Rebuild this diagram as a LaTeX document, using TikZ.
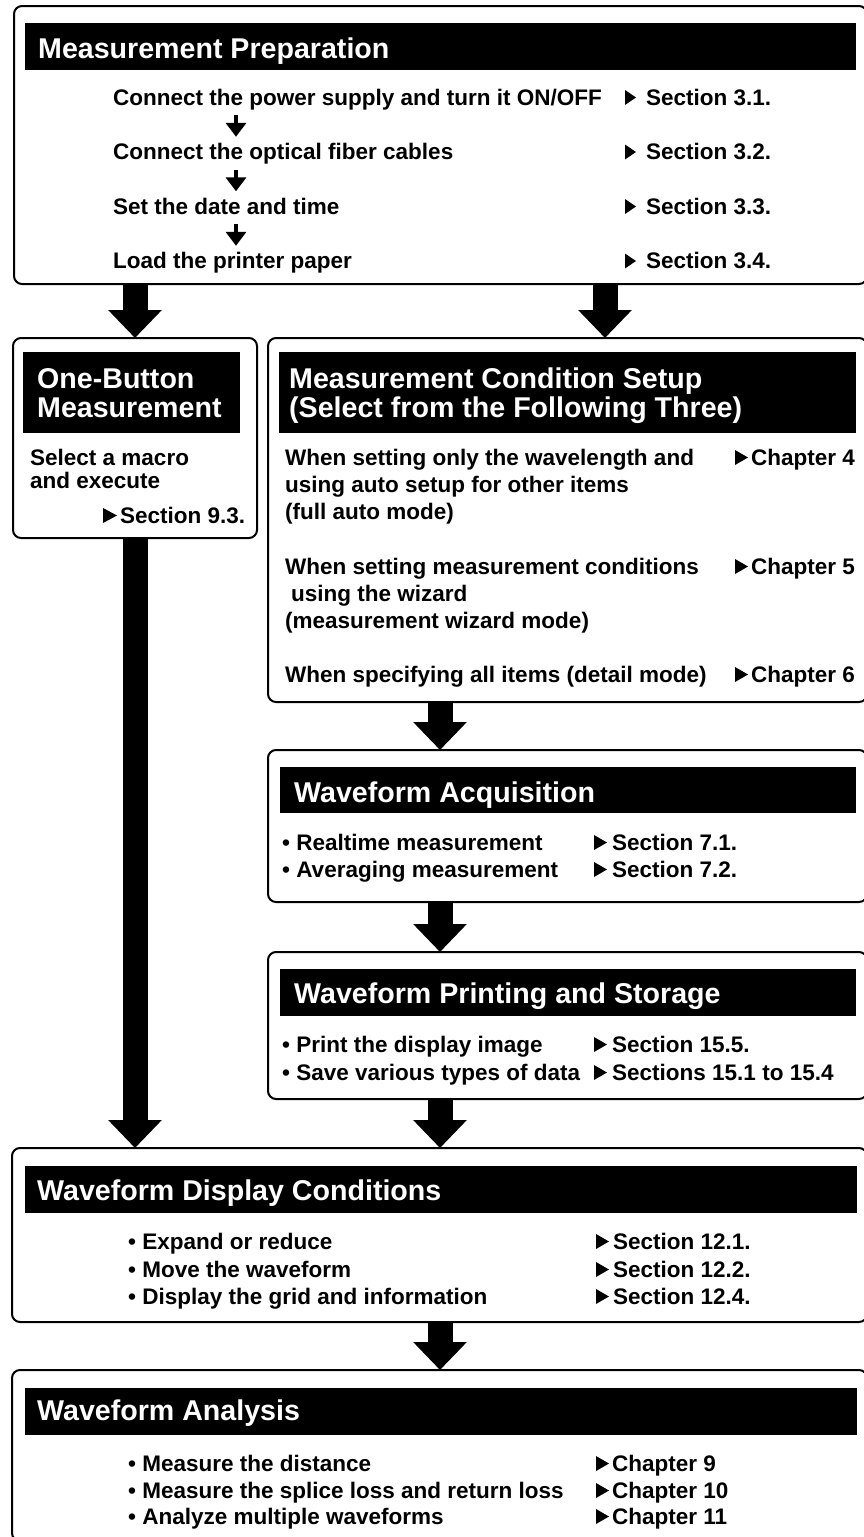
\documentclass[tikz,border=0pt]{standalone}
\usepackage{fontspec}
\setmainfont{Liberation Sans}
\usetikzlibrary{arrows.meta}

% Kaesten: Name/x links/y oben/x rechts/y unten
\def\boxes{prep/14/6/867/284, onebtn/13/338/257/538, cond/268/338/867/702,
           acq/268/750/867/902, print/268/952/867/1099,
           disp/12/1148/867/1322, anal/12/1370/867/1541}
\def\bands{prep/25/23/856/70, onebtn/23/352/240/433, cond/279/352/856/433,
           acq/280/767/856/813, print/280/969/856/1016,
           disp/25/1166/857/1213, anal/25/1388/857/1435}
\def\headers{38/58/{Measurement Preparation},
             37/388/{One-Button}, 37/417/{Measurement},
             289/388/{Measurement Condition Setup}, 289/417/{(Select from the Following Three)},
             294/802/{Waveform Acquisition},
             294/1003/{Waveform Printing and Storage},
             37/1200/{Waveform Display Conditions},
             37/1420/{Waveform Analysis}}
\def\prepsteps{105/{Connect the power supply and turn it ON/OFF},
               159.5/{Connect the optical fiber cables},
               214/{Set the date and time},
               268.5/{Load the printer paper}}
\def\items{30/465/{Select a macro}, 30/488/{and execute},
           285/465/{When setting only the wavelength and},
           285/492/{using auto setup for other items},
           285/519/{(full auto mode)},
           285/574/{When setting measurement conditions},
           291/601/{using the wizard},
           285/628/{(measurement wizard mode)},
           285/682/{When specifying all items (detail mode)},
           282/850/{• Realtime measurement}, 282/877/{• Averaging measurement},
           282/1052/{• Print the display image}, 282/1080/{• Save various types of data},
           128/1249/{• Expand or reduce}, 128/1277/{• Move the waveform},
           128/1304/{• Display the grid and information},
           128/1471/{• Measure the distance},
           128/1498/{• Measure the splice loss and return loss},
           128/1524/{• Analyze multiple waveforms}}
% Verweise: Dreieck x/Grundlinie/Dreieckbreite/Text x/Text
\def\refs{625/105/11/646/{Section 3.1.}, 625/159.5/11/646/{Section 3.2.},
          625/214/11/646/{Section 3.3.}, 625/268.5/11/646/{Section 3.4.},
          103/523/14/120/{Section 9.3.},
          735/465/13/751/{Chapter 4}, 735/574/13/751/{Chapter 5}, 735/682/13/751/{Chapter 6},
          594/850/13/612/{Section 7.1.}, 594/877/13/612/{Section 7.2.},
          594/1052/13/612/{Section 15.5.}, 594/1080/13/612/{Sections 15.1 to 15.4},
          596/1249/13/613/{Section 12.1.}, 596/1277/13/613/{Section 12.2.},
          596/1304/13/613/{Section 12.4.},
          596/1471/13/612/{Chapter 9}, 596/1498/13/612/{Chapter 10},
          596/1524/13/612/{Chapter 11}}

\begin{document}
\begin{tikzpicture}[x=1pt,y=-1pt,
    box/.style={draw,line width=2pt,rounded corners=8pt,anchor=north west,inner sep=0pt,outer sep=0pt},
    band/.style={fill=black,anchor=north west,inner sep=0pt,outer sep=0pt},
    headtxt/.style={text=white,anchor=base west,inner sep=0pt,font=\fontsize{28.6}{30}\selectfont\bfseries},
    txt/.style={anchor=base west,inner sep=0pt,font=\fontsize{22.5}{26}\selectfont\bfseries},
    prepitem/.style={txt,text height=16pt,text depth=5pt},
    bigarrow/.style={line width=25pt,-{Triangle[length=28pt,width=52pt]}},
    smallarrow/.style={line width=4pt,shorten <=5pt,shorten >=6.5pt,-{Triangle[length=14pt,width=20pt]}}]

\useasboundingbox (0,0) rectangle (863,1537);

% Rahmen
\foreach \n/\xa/\ya/\xb/\yb in \boxes {
  \node[box,minimum width=\xb pt-\xa pt,minimum height=\yb pt-\ya pt] (\n) at (\xa,\ya) {};
}

% schwarze Titelbalken
\foreach \n/\xa/\ya/\xb/\yb in \bands {
  \node[band,minimum width=\xb pt-\xa pt,minimum height=\yb pt-\ya pt] (\n-band) at (\xa,\ya) {};
}
\foreach \x/\y/\t [count=\i] in \headers {
  \node[headtxt] (head\i) at (\x,\y) {\t};
}

% Vorbereitung mit kleinen Pfeilen
\coordinate (sacol) at (236,0);
\foreach \y/\t [count=\i] in \prepsteps {
  \node[prepitem] (prepitem\i) at (113,\y) {\t};
}
\foreach \a/\b in {1/2,2/3,3/4} {
  \draw[smallarrow] (prepitem\a.south -| sacol) -- (prepitem\b.north -| sacol);
}

% Texte
\foreach \x/\y/\t [count=\i] in \items {
  \node[txt] (item\i) at (\x,\y) {\t};
}

% Verweise
\foreach \tx/\ty/\tw/\sx/\t [count=\i] in \refs {
  \fill (\tx,\ty) -- (\tx,\ty-15) -- (\tx+\tw,\ty-7.5) -- cycle;
  \node[txt] (ref\i) at (\sx,\ty) {\t};
}

% dicke Pfeile
\coordinate (lcol) at (135,0);
\coordinate (rcol) at (605,0);
\coordinate (mcol) at (440,0);
\foreach \a/\b/\c in {prep/onebtn/lcol, prep/cond/rcol, cond/acq/mcol, acq/print/mcol,
                      onebtn/disp/lcol, print/disp/mcol, disp/anal/mcol} {
  \draw[bigarrow] (\a.south -| \c) -- (\b.north -| \c);
}

\end{tikzpicture}
\end{document}
